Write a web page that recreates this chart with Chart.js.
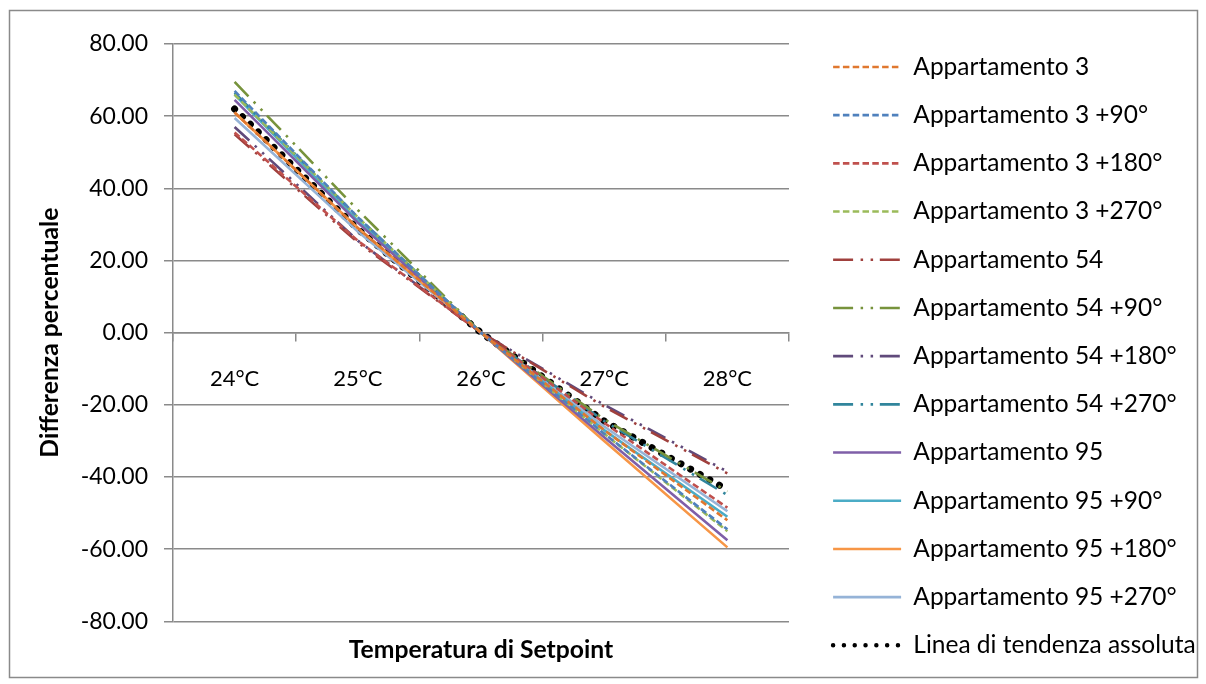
<!DOCTYPE html>
<html>
<head>
<meta charset="utf-8">
<script src="https://cdn.jsdelivr.net/npm/chart.js@4.4.1/dist/chart.umd.min.js"></script>
<style>
body { margin: 0; background: #fff; }
#wrap { width: 1206px; height: 684px; position: relative; }
</style>
</head>
<body>
<div id="wrap"><canvas id="chart"></canvas></div>
<script>
// categories and values (percent difference vs 26°C)
const categories = ["24°C", "25°C", "26°C", "27°C", "28°C"];
const yTicks = [-80, -60, -40, -20, 0, 20, 40, 60, 80];

const app3 = [61, 29, 0, -27, -52];
const app3_90 = [67, 32, 0, -28, -54.5];
const app3_180 = [55.5, 25.5, 0, -25, -48.5];
const app3_270 = [66, 32, 0, -28, -55];
const app54 = [55, 25, 0, -20.5, -39];
const app54_90 = [69.5, 34, 0, -24, -44];
const app54_180 = [57, 25.5, 0, -20, -38.5];
const app54_270 = [66.5, 32, 0, -24.5, -45];
const app95 = [64.5, 30.5, 0, -29, -57.5];
const app95_90 = [66, 31, 0, -27, -51];
const app95_180 = [61, 29, 0, -30, -59.5];
const app95_270 = [59.5, 28, 0, -26, -49.5];
const trend = [62, 28.7, 0, -24.5, -43.5];

const names = [
    "Appartamento 3", "Appartamento 3 +90°", "Appartamento 3 +180°", "Appartamento 3 +270°",
    "Appartamento 54", "Appartamento 54 +90°", "Appartamento 54 +180°", "Appartamento 54 +270°",
    "Appartamento 95", "Appartamento 95 +90°", "Appartamento 95 +180°", "Appartamento 95 +270°",
    "Linea di tendenza assoluta"
];
const values = [app3, app3_90, app3_180, app3_270, app54, app54_90, app54_180, app54_270,
    app95, app95_90, app95_180, app95_270, trend];

const colors = ["#E0782F", "#4F81BD", "#C0504D", "#9BBB59", "#A0403D", "#77933C", "#604A7B", "#31859C",
    "#7F5FA8", "#4BACC6", "#F79646", "#95B3D7", "#000000"];
const DASH = [6.5, 3.3];
const DASHDOT = [20, 7.5, 2.5, 7.5, 2.5, 6.7];
const dashes = [DASH, DASH, DASH, DASH, DASHDOT, DASHDOT, DASHDOT, DASHDOT, [], [], [], [], [0.01, 11]];

const GRAY = "#8a8a8a";
Chart.defaults.font.family = "Lato";
Chart.defaults.color = "#000";

const datasets = names.map(function (n, i) {
    const isTrend = i === names.length - 1;
    return {
        label: n,
        data: values[i],
        borderColor: colors[i],
        backgroundColor: colors[i],
        borderWidth: isTrend ? 7 : 2.6,
        borderDash: dashes[i],
        borderCapStyle: isTrend ? "round" : "butt",
        pointRadius: 0,
        tension: 0,
        fill: false
    };
});

// white background + outer frame
const framePlugin = {
    id: "frame",
    beforeDraw(chart) {
        const c = chart.ctx;
        c.save();
        c.fillStyle = "#fff";
        c.fillRect(0, 0, chart.width, chart.height);
        c.strokeStyle = GRAY;
        c.lineWidth = 1.5;
        c.strokeRect(9.5, 10.5, 1188, 667);
        c.restore();
    }
};

const chart = new Chart(document.getElementById("chart"), {
    type: "line",
    data: { labels: categories, datasets: datasets },
    plugins: [framePlugin],
    options: {
        responsive: true,
        maintainAspectRatio: false,
        animation: false,
        layout: { padding: { left: 10, right: 10, top: 10, bottom: 0 } },
        scales: {
            x: {
                type: "category",
                position: { y: 0 },
                offset: true,
                grid: { offset: true, drawOnChartArea: false, drawTicks: true, tickLength: 8, color: GRAY, lineWidth: 1.5 },
                border: { display: true, color: GRAY, width: 1.5 },
                ticks: { padding: 25, maxRotation: 0, font: { size: 22 }, color: "#000" }
            },
            y: {
                min: -80,
                max: 80,
                afterFit(s) { s.width = 163; },
                afterBuildTicks(s) { s.ticks = yTicks.map(function (v) { return { value: v }; }); },
                grid: { color: GRAY, lineWidth: 1.5, tickLength: 9 },
                border: { display: true, color: GRAY, width: 1.5 },
                ticks: {
                    padding: 16,
                    font: { size: 23 },
                    color: "#000",
                    callback: function (v) { return Number(v).toFixed(2); }
                },
                title: {
                    display: true,
                    text: "Differenza percentuale",
                    font: { size: 24.7, weight: "bold" },
                    color: "#000",
                    padding: { top: 25, bottom: 0 }
                }
            },
            spacer: {
                type: "linear",
                position: "right",
                display: true,
                afterFit(s) { s.width = 20.4; },
                grid: { display: false },
                border: { display: false },
                ticks: { display: false }
            }
        },
        plugins: {
            tooltip: { enabled: false },
            subtitle: {
                display: true,
                text: "",
                position: "top",
                fullSize: false,
                font: { size: 10 },
                padding: { top: 22, bottom: 0 }
            },
            title: {
                display: true,
                text: "Temperatura di Setpoint",
                position: "bottom",
                fullSize: false,
                font: { size: 24.7, weight: "bold" },
                color: "#000",
                padding: { top: 14, bottom: 19 }
            },
            legend: {
                position: "right",
                align: "start",
                title: { display: true, text: "", font: { size: 5 }, padding: { top: 15, bottom: 0 } },
                labels: {
                    usePointStyle: true,
                    pointStyle: "line",
                    pointStyleWidth: 68,
                    boxWidth: 68,
                    padding: 23.7,
                    font: { size: 24.5 },
                    color: "#000",
                    generateLabels: function (chart) {
                        const items = Chart.defaults.plugins.legend.labels.generateLabels(chart);
                        return items.map(function (it) {
                            const ds = chart.data.datasets[it.datasetIndex];
                            const isTrend = it.datasetIndex === names.length - 1;
                            it.strokeStyle = ds.borderColor;
                            it.lineWidth = isTrend ? 4.5 : 2.6;
                            it.lineDash = isTrend ? [0.01, 10.8] : ds.borderDash;
                            it.lineCap = ds.borderCapStyle;
                            return it;
                        });
                    }
                }
            }
        }
    }
});

// keep the legend column at a fixed width so the plot ends where the original does
const legendFit = chart.legend.fit.bind(chart.legend);
chart.legend.fit = function () {
    legendFit();
    this.width = 386.6;
};
chart.update();
</script>
</body>
</html>
